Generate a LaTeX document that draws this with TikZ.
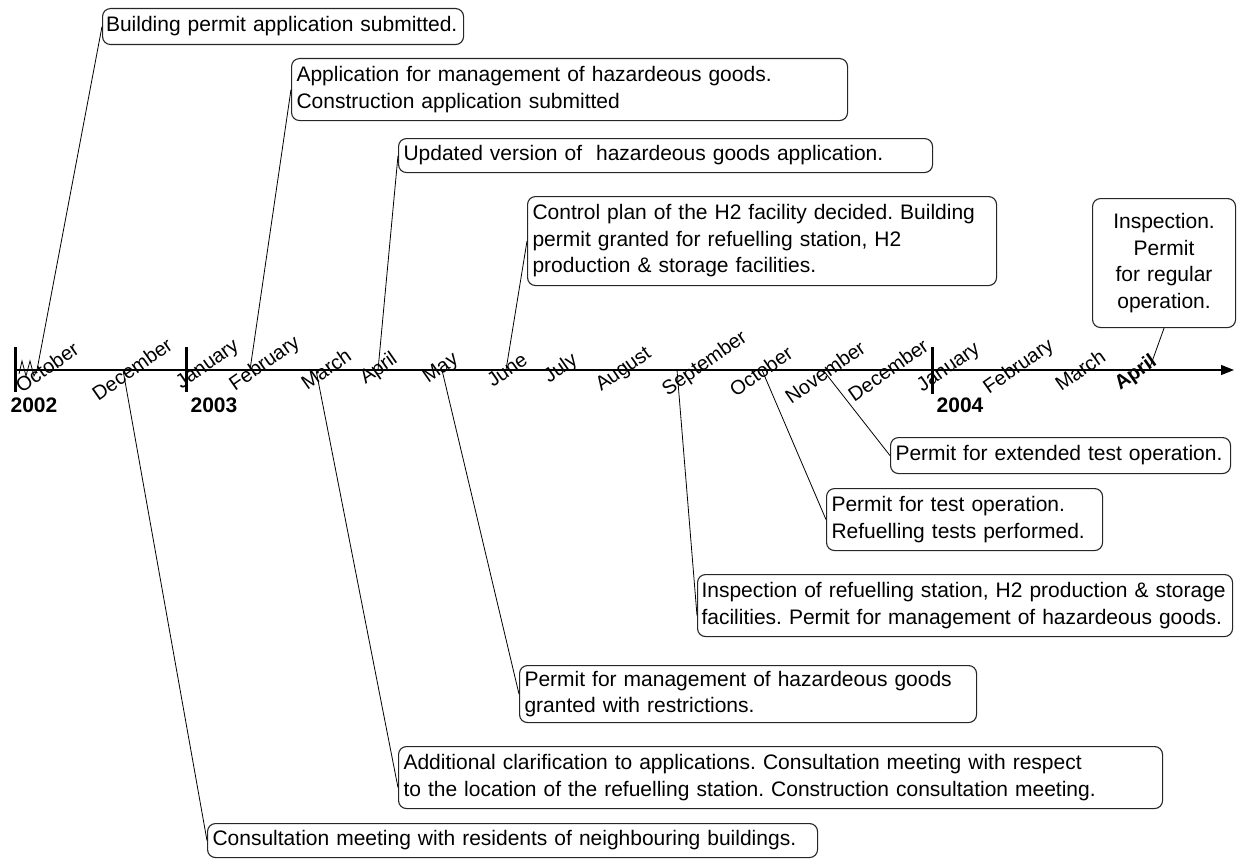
\documentclass[tikz,border=0pt]{standalone}
\usepackage{fontspec}
\setmainfont{Liberation Sans}
\usetikzlibrary{arrows.meta}
\frenchspacing
\hyphenpenalty=10000
\exhyphenpenalty=10000
\tikzset{
  eventbox/.style={
    draw=black!85, rectangle, rounded corners=8pt, line width=1.1pt,
    anchor=north west, align=left, inner xsep=5pt, inner ysep=0pt,
    font=\fontsize{21}{26.5}\selectfont
  },
  month/.style={
    rotate=35, inner sep=0pt, font=\fontsize{20}{23}\selectfont
  },
  year/.style={
    inner sep=0pt, font=\fontsize{21}{24}\selectfont\bfseries
  },
  yearbar/.style={line width=3pt},
  callout/.style={line width=0.8pt},
  timeline/.style={
    line width=1.3pt, -{Triangle[length=13pt, width=10pt]}
  }
}

\begin{document}
\begin{tikzpicture}[x=1pt, y=-1pt]
  \useasboundingbox (0,0) rectangle (1237,859);

  % time axis
  \coordinate (t-start) at (15,370);
  \coordinate (t-end) at (1234,370);
  \draw[timeline] (t-start) -- (t-end);
  \draw[yearbar] (15,347) -- (15,392);
  \draw[yearbar] (186,347) -- (186,392);
  \draw[yearbar] (932,347) -- (932,394);

  \node[year] (y2002) at (34,405) {2002};
  \node[year] (y2003) at (214,405) {2003};
  \node[year] (y2004) at (960,405) {2004};

  \node[month] (m-oct02) at (47,367) {October};
  \node[month] (m-dec02) at (132,369) {December};
  \node[month] (m-jan03) at (208,365) {January};
  \node[month] (m-feb03) at (265,364) {February};
  \node[month] (m-mar03) at (326,369) {March};
  \node[month] (m-apr03) at (379,369) {April};
  \node[month] (m-may03) at (441,369) {May};
  \node[month] (m-jun03) at (507,370) {June};
  \node[month] (m-jul03) at (561,369) {July};
  \node[month] (m-aug03) at (624,370) {August};
  \node[month] (m-sep03) at (705,364) {September};
  \node[month] (m-oct03) at (761,371) {October};
  \node[month] (m-nov03) at (825,372) {November};
  \node[month] (m-dec03) at (888,370) {December};
  \node[month] (m-jan04) at (949,368) {January};
  \node[month] (m-feb04) at (1019,367) {February};
  \node[month] (m-mar04) at (1080,370) {March};
  \node[month, font=\fontsize{20}{23}\selectfont\bfseries] (m-apr04) at (1136,373) {April};

  % points on the axis
  \coordinate (t-oct02) at (37,370);
  \coordinate (t-dec02) at (123,370);
  \coordinate (t-feb03) at (250,370);
  \coordinate (t-mar03) at (316,370);
  \coordinate (t-apr03) at (378,370);
  \coordinate (t-may03) at (442,370);
  \coordinate (t-jun03) at (506,370);
  \coordinate (t-sep03) at (677,370);
  \coordinate (t-oct03) at (762,370);
  \coordinate (t-nov03) at (823,370);
  \coordinate (t-apr04) at (1149,370);

  % events above the axis
  \node[eventbox, inner xsep=3.5pt, text width=354pt, minimum height=36pt] (permitapp) at (102,8)
    {Building permit application submitted.};
  \node[eventbox, text width=546pt, minimum height=62pt] (hazapp) at (291,58)
    {Application for management of hazardeous goods.\\Construction application submitted};
  \node[eventbox, text width=524pt, minimum height=34pt] (hazupdate) at (398,138)
    {Updated version of\ \ hazardeous goods application.};
  \node[eventbox, text width=459pt, minimum height=89pt] (controlplan) at (527,196)
    {Control plan of the H2 facility decided. Building\\permit granted for refuelling station, H2\\production \& storage facilities.};
  \node[eventbox, align=center, text width=133pt, minimum height=129pt] (regular) at (1092,198)
    {Inspection.\\Permit\\for regular\\operation.};

  % events below the axis
  \node[eventbox, text width=330pt, minimum height=36pt] (extended) at (890,437)
    {Permit for extended test operation.};
  \node[eventbox, text width=266pt, minimum height=62pt] (testop) at (826,488)
    {Permit for test operation.\\Refuelling tests performed.};
  \node[eventbox, inner xsep=4pt, text width=527pt, minimum height=62pt] (inspection) at (697,574)
    {Inspection of refuelling station, H2 production \& storage\\facilities. Permit for management of hazardeous goods.};
  \node[eventbox, text width=447pt, minimum height=57pt] (restrict) at (519,665)
    {Permit for management of hazardeous goods\\granted with restrictions.};
  \node[eventbox, text width=754pt, minimum height=62pt] (clarify) at (398,746)
    {Additional clarification to applications. Consultation meeting with respect\\to the location of the refuelling station. Construction consultation meeting.};
  \node[eventbox, text width=600pt, minimum height=34pt] (residents) at (207,823)
    {Consultation meeting with residents of neighbouring buildings.};

  % callout lines
  \draw[callout] (permitapp.west) -- (t-oct02) -- ++(-3,6) -- ++(-4,-15)
    -- ++(-4,15) -- ++(-4,-15) -- ++(-3,13);
  \draw[callout] (t-feb03) -- (hazapp.west);
  \draw[callout] (t-apr03) -- (hazupdate.west);
  \draw[callout] (t-jun03) -- (controlplan.west);
  \draw[callout] (t-apr04) -- (regular.south);
  \draw[callout] (t-nov03) -- (extended.west);
  \draw[callout] (t-oct03) -- (testop.west);
  \draw[callout] (t-sep03) -- ([yshift=-10pt]inspection.west);
  \draw[callout] (t-may03) -- (restrict.west);
  \draw[callout] (t-mar03) -- ([yshift=-10pt]clarify.west);
  \draw[callout] (t-dec02) -- (residents.west);
\end{tikzpicture}
\end{document}
